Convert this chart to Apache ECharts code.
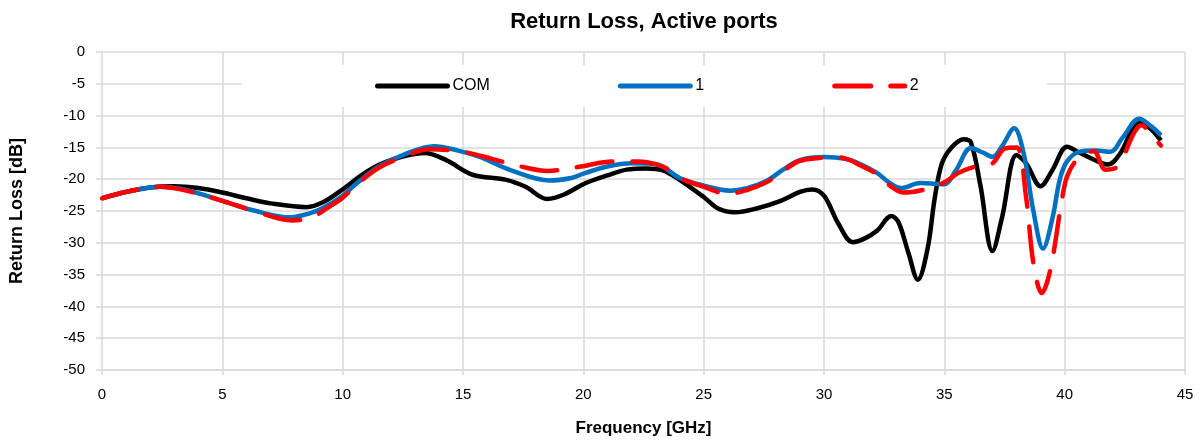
<!DOCTYPE html>
<html>
<head>
<meta charset="utf-8">
<script src="https://cdn.jsdelivr.net/npm/echarts@6/dist/echarts.min.js"></script>
<style>
html,body{margin:0;padding:0;background:#fff;}
#chart{width:1200px;height:442px;}
</style>
</head>
<body>
<div id="chart"></div>
<script>
// ---- data ----
const comFreq = [0,1,2,3,4,5,6,7,8.5,9.2,10,11,12,13.4,14.3,15.4,16.8,17.6,18.5,19.2,20.1,21.0,21.8,22.6,23.3,24.0,25.0,25.6,26.3,27.2,28.2,29.0,29.5,30.0,30.6,31.2,31.7,32.2,32.8,33.1,33.5,33.9,34.3,34.6,34.9,35.3,35.8,36.1,36.5,37.0,37.4,38.0,38.4,39.0,39.5,40.1,40.6,41.2,41.8,42.3,43.1,43.6,44.0];
const comVal  = [-23,-22,-21.3,-21.1,-21.4,-22.1,-23.0,-23.8,-24.4,-23.6,-21.6,-18.8,-17.0,-15.9,-17.0,-19.3,-20.1,-21.2,-23.1,-22.4,-20.6,-19.4,-18.5,-18.3,-18.6,-20.1,-22.8,-24.6,-25.2,-24.6,-23.4,-22.0,-21.6,-22.6,-27.0,-29.9,-29.3,-28.1,-25.8,-26.8,-31.5,-35.8,-31,-23,-17.5,-15,-13.7,-14.2,-21,-31.3,-26,-16.2,-17.5,-21.1,-18.5,-14.9,-15.8,-16.9,-17.7,-16.0,-11.0,-12.2,-13.9];

const p1Freq = [0,1,2.4,3.5,5.0,6.4,7.8,8.6,9.2,10.0,10.6,11.5,12.5,13.8,14.8,15.7,17,18.6,19.5,20.1,21,22,23,24,25,26.1,26.8,27.6,28.3,29.0,30.0,30.9,31.5,32.2,32.7,33.2,34.0,34.6,35.0,35.5,36.1,36.6,37.0,37.4,37.9,38.3,38.7,39.1,39.5,39.8,40.1,40.6,41.3,41.9,42.4,43.1,43.6,44.0];
const p1Val  = [-23,-22,-21.2,-21.7,-23.4,-25.0,-26.0,-25.4,-24.5,-22.6,-20.6,-18.0,-16.2,-14.8,-15.5,-16.5,-18.6,-20.2,-19.8,-19.0,-18.0,-17.5,-17.6,-19.8,-21.0,-21.8,-21.4,-20.3,-18.5,-17.0,-16.5,-16.8,-17.6,-19.0,-20.5,-21.4,-20.6,-20.7,-20.8,-18.5,-15.1,-15.8,-16.5,-14.8,-12.0,-16,-25,-30.9,-26,-20,-17.2,-15.7,-15.5,-15.7,-13.5,-10.5,-11.7,-13.1];

const p2Freq = [0,1,2.4,3.5,5.0,6.4,7.9,8.7,9.5,10.0,10.6,11.5,12.5,13.6,15.0,16.2,17.4,18.5,19.9,21.2,22.2,23.3,24,25,26.0,26.8,27.6,28.3,29.0,30.0,30.5,31.0,31.5,32.2,32.8,33.3,34.2,35.0,35.6,36.3,37.0,37.5,38.0,38.4,38.7,39.05,39.4,39.9,40.1,40.5,41.2,41.7,42.2,42.9,43.2,43.6,44.0];
const p2Val  = [-23,-22,-21.2,-21.8,-23.4,-25.1,-26.5,-26.0,-24.2,-22.9,-20.8,-18.2,-16.5,-15.3,-15.7,-16.8,-18.0,-18.7,-18.0,-17.2,-17.2,-18.0,-19.8,-21.2,-22.3,-21.7,-20.5,-18.7,-17.1,-16.6,-16.5,-16.9,-17.8,-19.2,-21.2,-22.1,-21.6,-20.5,-19.0,-18.0,-17.5,-15.2,-15.0,-22.9,-33.2,-37.9,-34.3,-22.9,-19.6,-17.0,-15.6,-18.5,-18.0,-12.6,-11.5,-13.1,-14.7];

const seriesNames = ['COM','1','2'];
const xTicks = {min:0, max:45, interval:5};
const yTicks = {min:-50, max:0, interval:5};

function pairs(xs, ys){ return xs.map((x,i)=>[x, ys[i]]); }

const FONT = "'Liberation Sans', Arial, sans-serif";
const chart = echarts.init(document.getElementById('chart'), null, {renderer:'canvas'});
const grey = '#d9d9d9';
chart.setOption({
  animation:false,
  backgroundColor:'#fff',
  title:{
    text:'Return Loss, Active ports',
    left:639, top:6, textAlign:'center',
    textStyle:{fontFamily:FONT, fontSize:22, fontWeight:'bold', color:'#000'}
  },
  legend:{
    data:seriesNames,
    left:242, top:65,
    padding:[13,128,13,133],
    itemGap:128,
    itemWidth:70, itemHeight:14,
    backgroundColor:'#fff',
    itemStyle:{opacity:0},
    lineStyle:{width:5, cap:'round'},
    textStyle:{fontFamily:FONT, fontSize:16, color:'#000'}
  },
  grid:{left:102, right:15, top:52, bottom:67, containLabel:false},
  xAxis:{
    type:'value', min:xTicks.min, max:xTicks.max, interval:xTicks.interval,
    name:'Frequency [GHz]', nameLocation:'middle', nameGap:50,
    nameTextStyle:{fontFamily:FONT, fontSize:17, fontWeight:'bold', color:'#000'},
    axisLine:{show:true, onZero:false, lineStyle:{color:grey, width:1.5}},
    axisTick:{show:true, length:5, lineStyle:{color:grey, width:1.5}},
    axisLabel:{fontFamily:FONT, fontSize:15, color:'#000', margin:17},
    splitLine:{show:true, lineStyle:{color:grey, width:1.5}}
  },
  yAxis:{
    type:'value', min:yTicks.min, max:yTicks.max, interval:yTicks.interval,
    name:'Return Loss [dB]', nameLocation:'middle', nameGap:76, nameRotate:90,
    nameTextStyle:{fontFamily:FONT, fontSize:18, fontWeight:'bold', color:'#000'},
    axisLine:{show:false},
    axisTick:{show:true, length:6, lineStyle:{color:grey, width:1.5}},
    axisLabel:{fontFamily:FONT, fontSize:15, color:'#000', margin:17},
    splitLine:{show:true, lineStyle:{color:grey, width:1.5}}
  },
  series:[
    {name:'COM', type:'line', data:pairs(comFreq, comVal), smooth:0.35, symbol:'none',
     lineStyle:{color:'#000000', width:4.5}, itemStyle:{color:'#000000'}, z:3},
    {name:'1', type:'line', data:pairs(p1Freq, p1Val), smooth:0.35, symbol:'none',
     lineStyle:{color:'#0070C0', width:4.5}, itemStyle:{color:'#0070C0'}, z:4},
    {name:'2', type:'line', data:pairs(p2Freq, p2Val), smooth:0.35, symbol:'none',
     lineStyle:{color:'#FF0000', width:4.5, type:[36,20], cap:'round'}, itemStyle:{color:'#FF0000'}, z:5}
  ]
});
</script>
</body>
</html>
